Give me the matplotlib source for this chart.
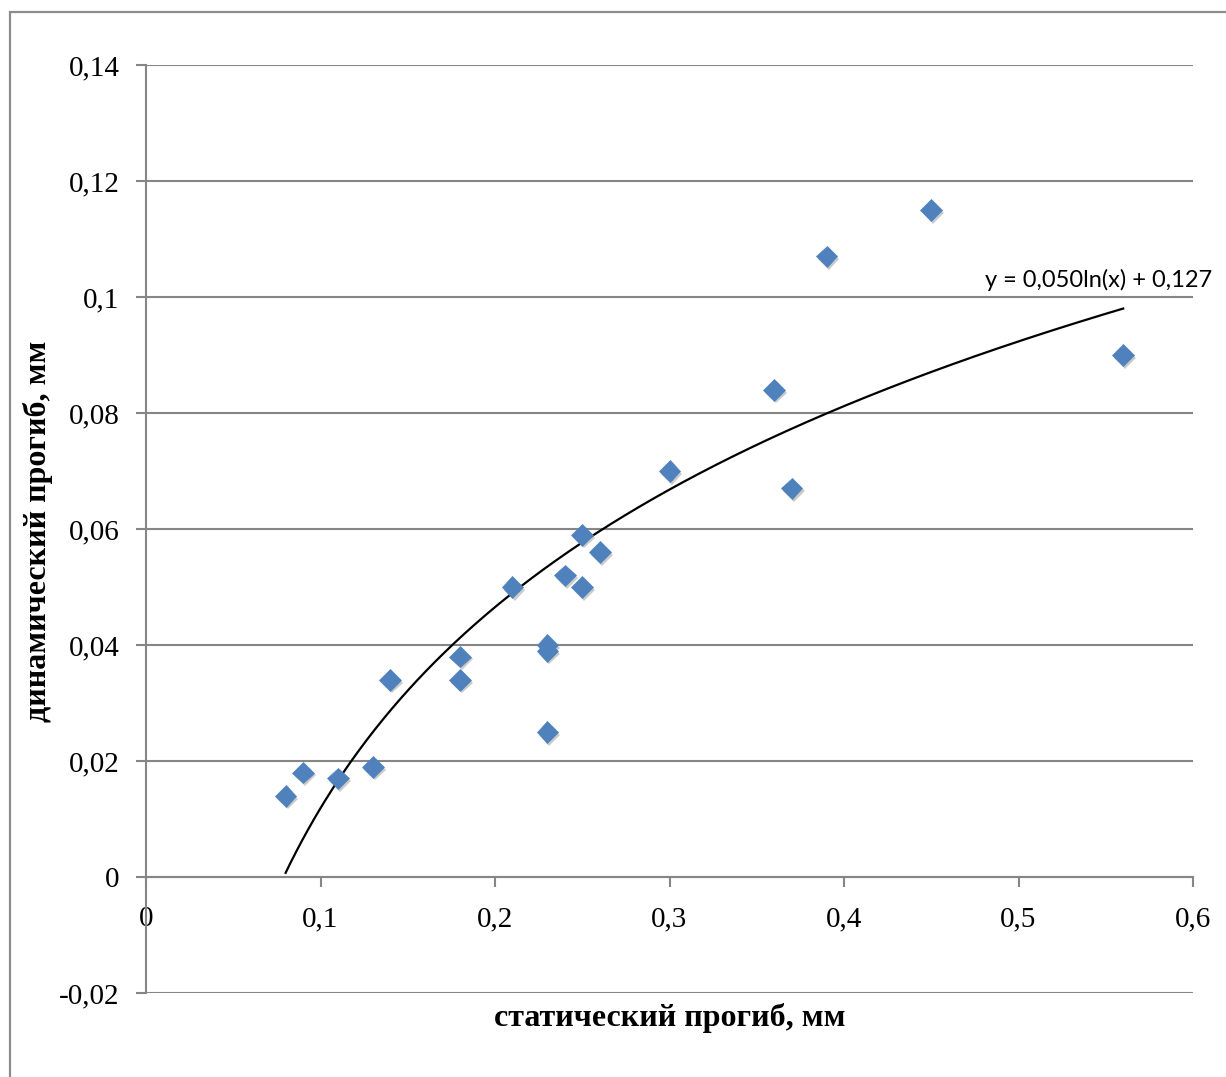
import numpy as np
import matplotlib
matplotlib.use("Agg")
import matplotlib.pyplot as plt
import matplotlib.patheffects as pe
from matplotlib.patches import Rectangle

# data
x_static = [0.08, 0.09, 0.11, 0.13, 0.14, 0.18, 0.18, 0.21, 0.23, 0.23, 0.23,
            0.24, 0.25, 0.25, 0.26, 0.30, 0.36, 0.37, 0.39, 0.45, 0.56]
y_dynamic = [0.014, 0.018, 0.017, 0.019, 0.034, 0.038, 0.034, 0.050, 0.025, 0.040, 0.039,
             0.052, 0.059, 0.050, 0.056, 0.070, 0.084, 0.067, 0.107, 0.115, 0.090]
trend_a = 0.050
trend_b = 0.127
trend_label = "y = 0,050ln(x) + 0,127"
x_ticks = [0, 0.1, 0.2, 0.3, 0.4, 0.5, 0.6]
x_ticklabels = ["0", "0,1", "0,2", "0,3", "0,4", "0,5", "0,6"]
y_ticks = [-0.02, 0, 0.02, 0.04, 0.06, 0.08, 0.1, 0.12, 0.14]
y_ticklabels = ["-0,02", "0", "0,02", "0,04", "0,06", "0,08", "0,1", "0,12", "0,14"]
xlabel = "статический прогиб, мм"
ylabel = "динамический прогиб, мм"

W, H = 1226, 1077
fig = plt.figure(figsize=(W / 100, H / 100), dpi=100)
ax = fig.add_axes([146 / W, 1 - 993 / H, (1193 - 146) / W, (993 - 65) / H])

grid_c = "#868686"
serif = ["Liberation Serif", "DejaVu Serif"]

for s in ["top", "right"]:
    ax.spines[s].set_visible(False)
ax.spines["left"].set_color(grid_c)
ax.spines["left"].set_linewidth(1.5)
ax.spines["bottom"].set_position(("data", 0))
ax.spines["bottom"].set_color(grid_c)
ax.spines["bottom"].set_linewidth(1.5)

ax.set_xlim(0, 0.6)
ax.set_ylim(-0.02, 0.14)
ax.set_yticks(y_ticks)
ax.set_yticklabels(y_ticklabels, family=serif, fontsize=21)
ax.set_xticks(x_ticks)
ax.set_xticklabels(x_ticklabels, family=serif, fontsize=21)

ax.yaxis.grid(True, color=grid_c, linewidth=1.5)
ax.set_axisbelow(True)

ax.tick_params(axis="y", direction="out", length=7, width=1.5, color=grid_c, pad=12)
ax.tick_params(axis="x", direction="out", length=7, width=1.5, color=grid_c, pad=14)

# trendline
xt = np.linspace(min(x_static), max(x_static), 300)
yt = trend_a * np.log(xt) + trend_b
ax.plot(xt, yt, color="black", linewidth=1.6, zorder=3)

# scatter points with shadow
ax.plot(x_static, y_dynamic, linestyle="none", marker="D", markersize=11,
        markerfacecolor="#4F81BD", markeredgecolor="#4F81BD", markeredgewidth=0.5,
        zorder=4,
        path_effects=[pe.SimplePatchShadow(offset=(1.5, -2), shadow_rgbFace="#555555", alpha=0.3),
                      pe.Normal()])

ax.text(0.4808, 0.1029, trend_label, ha="left", va="center",
        family=["Lato", "DejaVu Sans"], fontsize=17, zorder=5)

fig.text(670 / W, 1 - 1018 / H, xlabel, ha="center", va="center",
         family=serif, fontsize=23, fontweight="bold")
fig.text(38 / W, 1 - 531 / H, ylabel, ha="center", va="center", rotation=90,
         family=serif, fontsize=23, fontweight="bold")

# figure border
fig.patches.append(Rectangle((10 / W, -0.5), 2.0, 1 - 12 / H + 0.5, transform=fig.transFigure,
                             fill=False, edgecolor="#8c8c8c", linewidth=1.6))

fig.savefig("out.png", dpi=100)
